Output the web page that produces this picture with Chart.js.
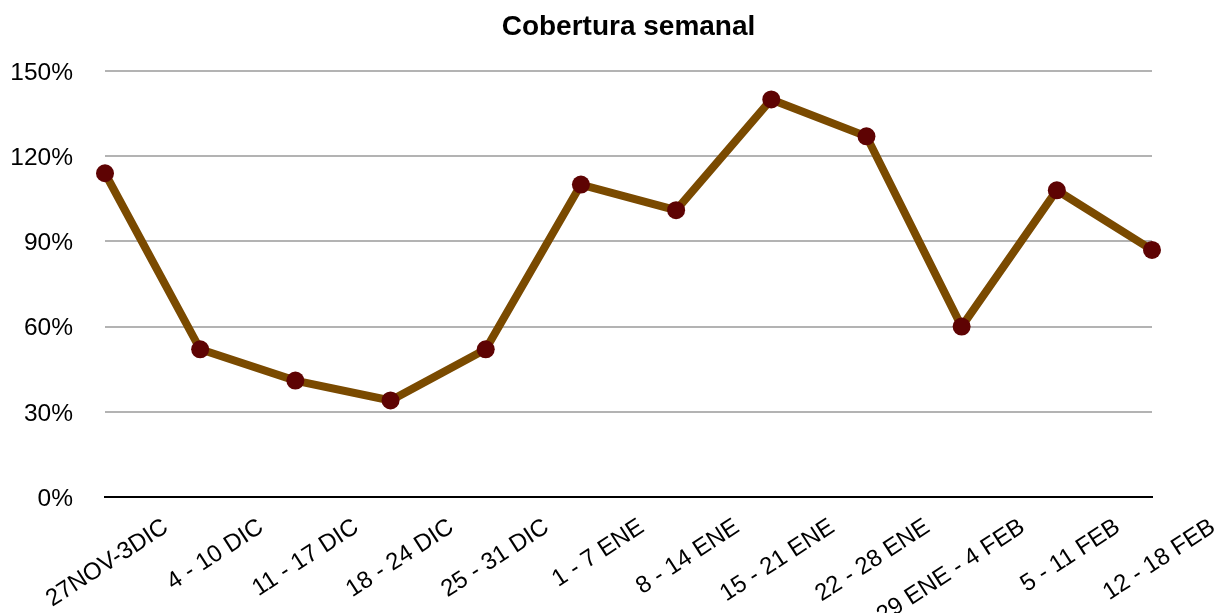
<!DOCTYPE html>
<html>
<head>
<meta charset="utf-8">
<script src="https://cdn.jsdelivr.net/npm/chart.js@4"></script>
<style>
  html, body { margin: 0; padding: 0; background: #fff; }
  #wrap { width: 1214px; height: 613px; }
</style>
</head>
<body>
<div id="wrap"><canvas id="myChart" width="1214" height="613"></canvas></div>
<script>
// datos
const semanas = [
  "27NOV-3DIC", "4 - 10 DIC", "11 - 17 DIC", "18 - 24 DIC", "25 - 31 DIC",
  "1 - 7 ENE", "8 - 14 ENE", "15 - 21 ENE", "22 - 28 ENE", "29 ENE - 4 FEB",
  "5 - 11 FEB", "12 - 18 FEB"
];
const cobertura = [114, 52, 41, 34, 52, 110, 101, 140, 127, 60, 108, 87];
const ticksY = [0, 30, 60, 90, 120, 150];
const titulo = "Cobertura semanal";

const fuente = "'Liberation Sans', Arial, Helvetica, sans-serif";

// titulo centrado sobre el area del grafico
const tituloPlugin = {
  id: "tituloArea",
  afterDraw(chart) {
    const c = chart.ctx;
    const a = chart.chartArea;
    c.save();
    c.font = "bold 28px " + fuente;
    c.fillStyle = "#000";
    c.textAlign = "center";
    c.textBaseline = "middle";
    c.fillText(titulo, (a.left + a.right) / 2, 27);
    c.restore();
  }
};

const ctx = document.getElementById("myChart");
new Chart(ctx, {
  type: "line",
  data: {
    labels: semanas,
    datasets: [
      {
        label: titulo,
        data: cobertura,
        borderColor: "#7a4a00",
        backgroundColor: "#5e0303",
        borderWidth: 8,
        pointRadius: 9,
        pointBorderWidth: 0,
        pointBackgroundColor: "#5e0303",
        tension: 0,
        fill: false,
      },
    ],
  },
  options: {
    responsive: false,
    animation: false,
    layout: { padding: { top: 71, right: 62, left: 0, bottom: 0 } },
    plugins: {
      legend: { display: false },
      title: { display: false },
      tooltip: { enabled: false },
    },
    scales: {
      x: {
        offset: false,
        grid: { display: false, drawTicks: false },
        border: { display: true, color: "#000", width: 2 },
        ticks: {
          color: "#000",
          font: { family: fuente, size: 24 },
          minRotation: 33,
          maxRotation: 33,
          autoSkip: false,
          labelOffset: 61,
          padding: 16,
        },
        afterFit(scale) {
          scale.height = 116;
          scale.paddingLeft = 0;
          scale.paddingRight = 0;
        },
      },
      y: {
        min: 0,
        max: 150,
        afterBuildTicks(scale) {
          scale.ticks = ticksY.map((v) => ({ value: v }));
        },
        grid: {
          color: (c) => (c.tick && c.tick.value === 0 ? "#000" : "#b3b3b3"),
          lineWidth: 2,
          drawTicks: false,
        },
        border: { display: false },
        ticks: {
          color: "#000",
          font: { family: fuente, size: 24.5 },
          padding: 32,
          labelOffset: 2,
          callback: (v) => v + "%",
        },
        afterFit(scale) {
          scale.width = 105;
          scale.paddingTop = 0;
          scale.paddingBottom = 0;
        },
      },
    },
  },
  plugins: [tituloPlugin],
});
</script>
</body>
</html>
